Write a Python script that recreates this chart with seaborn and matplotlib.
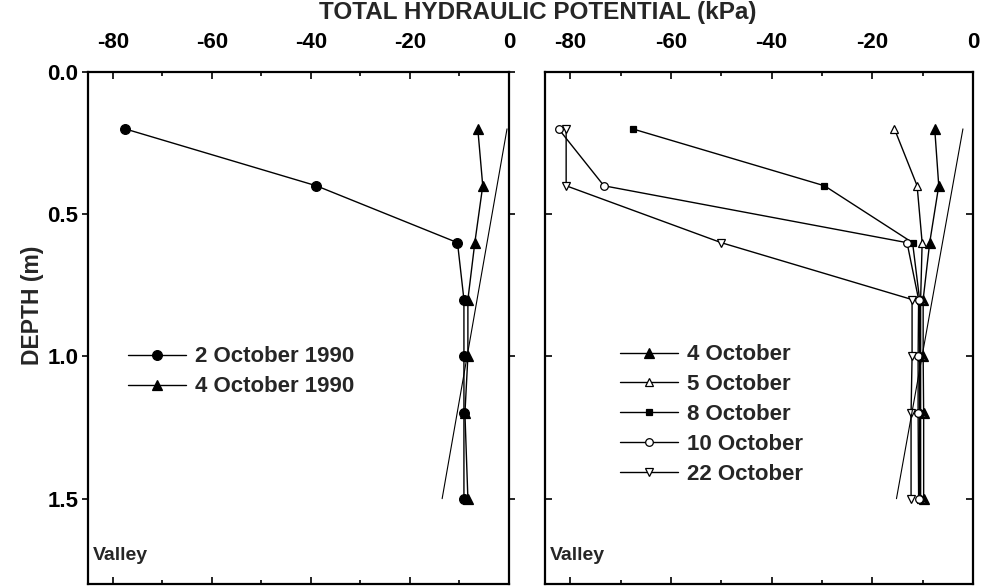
import numpy as np
import pandas as pd
import seaborn as sns
import matplotlib
matplotlib.use("Agg")
import matplotlib.pyplot as plt
from matplotlib.ticker import MultipleLocator, FormatStrFormatter
from matplotlib.lines import TICKRIGHT

# depths of the sensors (m)
depth = [0.2, 0.4, 0.6, 0.8, 1.0, 1.2, 1.5]

# left panel, total hydraulic potential (kPa)
oct2_1990 = [-77.5, -38.9, -10.4, -9.1, -9.1, -9.1, -9.1]
oct4_1990 = [-6.3, -5.3, -6.9, -8.3, -8.3, -8.9, -8.3]

# right panel
oct4 = [-7.6, -6.8, -8.6, -9.9, -9.9, -9.8, -9.8]
oct5 = [-15.6, -11.1, -10.1, -10.4, -10.4, -10.4, -10.4]
oct8 = [-67.6, -29.5, -12.0, -10.6, -10.6, -10.6, -10.6]
oct10 = [-82.3, -73.3, -13.1, -10.8, -10.9, -10.9, -10.8]
oct22 = [-80.8, -80.8, -50.0, -12.1, -12.1, -12.3, -12.3]

# gravitational reference lines
ref_depth = [0.2, 1.5]
ref_left = [-0.4, -13.5]
ref_right = [-2.0, -15.2]

sns.set_theme(style="white")
plt.rcParams["font.family"] = ["Liberation Sans", "DejaVu Sans"]
plt.rcParams["font.weight"] = "bold"
plt.rcParams["axes.unicode_minus"] = False

fig = plt.figure(figsize=(9.88, 5.86), dpi=100)
ax1 = fig.add_axes([88 / 988, 1 - 584 / 586, 421 / 988, 512 / 586])
ax2 = fig.add_axes([545 / 988, 1 - 584 / 586, 428 / 988, 512 / 586])

lw = 1.0
left_series = [
    ("2 October 1990", oct2_1990, "o", "black", 7),
    ("4 October 1990", oct4_1990, "^", "black", 7.5),
]
right_series = [
    ("4 October", oct4, "^", "black", 6.5),
    ("5 October", oct5, "^", "white", 6),
    ("8 October", oct8, "s", "black", 5),
    ("10 October", oct10, "o", "white", 5.5),
    ("22 October", oct22, "v", "white", 6),
]

for ax, series, ref in [(ax1, left_series, ref_left), (ax2, right_series, ref_right)]:
    for name, vals, mk, fc, ms in series:
        df = pd.DataFrame({"pot": vals, "depth": depth})
        sns.lineplot(data=df, x="pot", y="depth", sort=False, estimator=None,
                     ax=ax, color="black", lw=lw, marker=mk, markersize=ms,
                     markerfacecolor=fc, markeredgecolor="black",
                     markeredgewidth=0.9, label=name)
    sns.lineplot(x=ref, y=ref_depth, sort=False, estimator=None, ax=ax,
                 color="black", lw=0.8)

    ax.set_xlim(-85, 0)
    ax.set_ylim(1.8, 0)
    ax.xaxis.set_major_locator(MultipleLocator(20))
    ax.xaxis.set_minor_locator(MultipleLocator(10))
    ax.yaxis.set_major_locator(MultipleLocator(0.5))
    ax.xaxis.set_ticks_position("both")
    ax.tick_params(axis="x", which="both", direction="in", top=True, bottom=True,
                   labeltop=True, labelbottom=False, length=5, width=1.2,
                   pad=14, labelsize=16, colors="black")
    ax.tick_params(axis="x", which="minor", length=3)
    ax.set_xlabel("")
    ax.set_ylabel("")
    for s in ax.spines.values():
        s.set_color("black")
        s.set_linewidth(1.6)
    ax.text(0.012, 0.055, "Valley", transform=ax.transAxes, fontsize=14,
            ha="left", va="center")

ax1.yaxis.set_ticks_position("both")
ax1.tick_params(axis="y", which="major", direction="out", length=4,
                width=1.2, pad=3, labelsize=16, colors="black")
ax1.yaxis.set_major_formatter(FormatStrFormatter("%.1f"))
# right-hand ticks of left panel point inward
for t in ax1.yaxis.get_major_ticks():
    t.tick2line.set_marker(TICKRIGHT)

ax2.yaxis.set_ticks_position("both")
ax2.tick_params(axis="y", which="major", direction="in", length=5, width=1.2,
                labelleft=False, colors="black")

leg_kw = dict(frameon=False, prop={"size": 16, "weight": "bold"},
              handlelength=2.6, handletextpad=0.4, labelspacing=0.4,
              borderpad=0, borderaxespad=0, loc="upper left")
ax1.legend(bbox_to_anchor=(0.095, 0.464), **leg_kw)
ax2.legend(bbox_to_anchor=(0.176, 0.468), **leg_kw)

fig.text(538 / 988, 1 - 13 / 586, "TOTAL HYDRAULIC POTENTIAL (kPa)",
         ha="center", va="center", fontsize=17.5)
fig.text(33 / 988, 1 - 305 / 586, "DEPTH (m)", rotation=90, ha="center",
         va="center", fontsize=16.5)

fig.savefig("out.png", dpi=100)
